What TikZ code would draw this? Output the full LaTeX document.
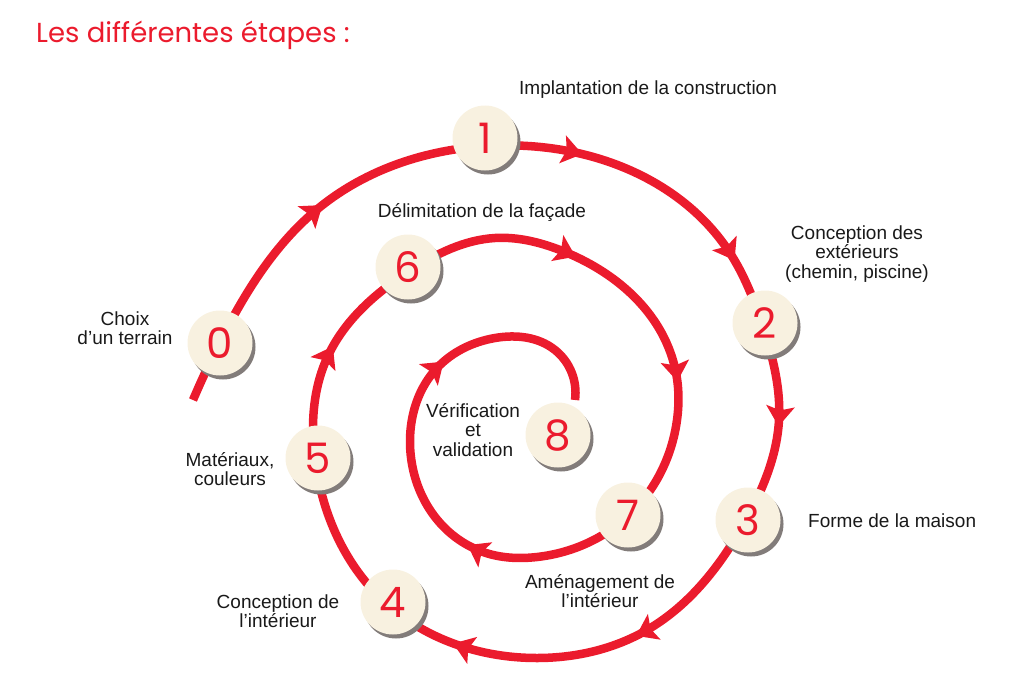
\documentclass[tikz,border=0pt]{standalone}
\usepackage{fontspec}
\setmainfont{Liberation Sans}
\newfontfamily\hand{Poppins}
\usetikzlibrary{arrows.meta,decorations.markings,hobby}
\definecolor{spred}{RGB}{235,27,45}
\definecolor{cream}{RGB}{248,241,224}
\definecolor{shadowgray}{RGB}{130,124,122}
\definecolor{txt}{RGB}{25,25,25}
\begin{document}
\begin{tikzpicture}[x=1pt,y=-1pt,
  spiral/.style={draw=spred, line width=8.5pt},
  arr/.tip={Stealth[length=20pt,width=28pt,inset=4pt,color=spred]},
  stepnum/.style={circle, fill=cream, minimum size=65pt, inner sep=0pt, text=spred, font=\hand\fontsize{42}{42}\selectfont},
  shad/.style={circle, fill=shadowgray, minimum size=65pt, inner sep=0pt},
  lbl/.style={align=center, font=\fontsize{19}{19.5}\selectfont, text=txt, inner sep=0pt},
]
\useasboundingbox (0,0) rectangle (1024,682);
\node[anchor=base west, text=spred, inner sep=0pt, font=\hand\fontsize{27.5}{28}\selectfont] (title) at (36,43) {Les différentes étapes :};

\draw[spiral, use Hobby shortcut, postaction={decorate}, decoration={markings,
  mark=at position 0.083 with {\arrow{arr}},
  mark=at position 0.179 with {\arrow{arr}},
  mark=at position 0.246 with {\arrow{arr}},
  mark=at position 0.307 with {\arrow{arr}},
  mark=at position 0.399 with {\arrow{arr}},
  mark=at position 0.465 with {\arrow{arr}},
  mark=at position 0.591 with {\arrow{arr}},
  mark=at position 0.691 with {\arrow{arr}},
  mark=at position 0.750 with {\arrow{arr}},
  mark=at position 0.863 with {\arrow{arr}},
  mark=at position 0.938 with {\arrow{arr}}}]
  (193,400) .. (220,342) .. (320,207) .. (487,146) .. (573,152) .. (730,253) .. (762,324) .. (779,420) .. (746,520) .. (647,630) .. (537,658) .. (467,648) .. (388,605) .. (315,459) .. (327,358) .. (411,270) .. (495,238) .. (560,250) .. (675,368) .. (677,420) .. (628,516) .. (537,557) .. (483,552) .. (410,440) .. (437,368) .. (495,338) .. (555,350) .. (575,400);

\foreach \n/\x/\y in {0/220/343, 1/485/138, 2/765/323, 3/748/520, 4/393/602, 5/318/458, 6/408/267, 7/628/515, 8/558/435}{
  \node[shad] (s\n) at (\x+3,\y+4) {};
  \node[stepnum] (n\n) at (\x,\y) {\n};
}

\node[lbl, anchor=west] (l1) at (519,90) {Implantation de la construction};
\node[lbl] (l2) at (857,254) {Conception des\\extérieurs\\(chemin, piscine)};
\node[lbl] (l0) at (125,328) {Choix\\d’un terrain};
\node[lbl] (l6) at (482,213) {Délimitation de la façade};
\node[lbl] (l8) at (473,430) {Vérification\\et\\validation};
\node[lbl] (l5) at (230,469) {Matériaux,\\couleurs};
\node[lbl, anchor=west] (l3) at (808,521) {Forme de la maison};
\node[lbl] (l7) at (600,591) {Aménagement de\\l’intérieur};
\node[lbl] (l4) at (278,611) {Conception de\\l’intérieur};
\end{tikzpicture}
\end{document}
